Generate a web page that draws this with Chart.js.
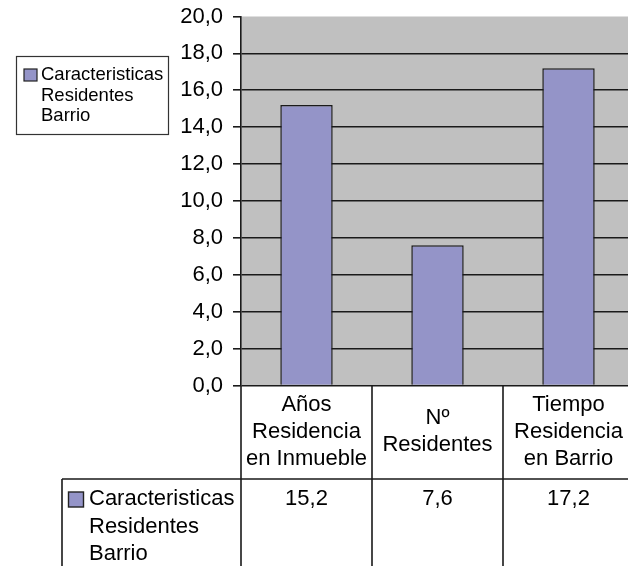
<!DOCTYPE html>
<html>
<head>
<meta charset="utf-8">
<script src="https://cdn.jsdelivr.net/npm/chart.js@4.4.0/dist/chart.umd.min.js"></script>
<style>
  html, body { margin: 0; padding: 0; background: #fff; overflow: hidden; }
  #wrap { position: absolute; left: 0; top: 0; width: 640px; height: 566px; }
</style>
</head>
<body>
<div id="wrap"><canvas id="c"></canvas></div>
<script>
// ---- data ----
const categories = [
  ["Años", "Residencia", "en Inmueble"],
  ["Nº", "Residentes"],
  ["Tiempo", "Residencia", "en Barrio"]
];
const seriesName = ["Caracteristicas", "Residentes", "Barrio"];
const seriesValues = [15.2, 7.6, 17.2];
const valueLabels = ["15,2", "7,6", "17,2"];
const yMin = 0, yMax = 20, yStep = 2;

const FONT = "'Liberation Sans', Arial, sans-serif";
const BAR_COLOR = "#9494c8";
const LINE = "#1a1a1a";

Chart.defaults.font.family = FONT;
Chart.defaults.color = "#000";

const decor = {
  id: "decor",
  beforeDraw(chart) {
    const { ctx, chartArea: a } = chart;
    ctx.save();
    ctx.fillStyle = "#c0c0c0";
    ctx.fillRect(a.left, a.top, a.right - a.left, a.bottom - a.top);
    ctx.restore();
  },
  afterDraw(chart) {
    const { ctx, chartArea: a } = chart;
    const x = chart.scales.x;
    const n = categories.length;
    const catW = x.getPixelForValue(1) - x.getPixelForValue(0);
    const H = chart.height;
    const headerBottom = 479;

    ctx.save();
    // ---- upper-left legend ----
    ctx.fillStyle = "#fff";
    ctx.fillRect(16, 56, 153, 79);
    ctx.strokeStyle = "#333";
    ctx.lineWidth = 1.2;
    ctx.strokeRect(16.5, 56.5, 152, 78);
    ctx.fillStyle = BAR_COLOR;
    ctx.fillRect(24, 69, 13, 12);
    ctx.strokeStyle = "#222";
    ctx.lineWidth = 1.2;
    ctx.strokeRect(24, 69, 13, 12);
    ctx.fillStyle = "#000";
    ctx.font = "18.5px " + FONT;
    ctx.textAlign = "left";
    ctx.textBaseline = "middle";
    seriesName.forEach((t, i) => ctx.fillText(t, 41, 75 + i * 20.5));

    // ---- data table lines ----
    ctx.strokeStyle = LINE;
    ctx.lineWidth = 1.6;
    ctx.beginPath();
    for (let i = 0; i <= n; i++) {
      const bx = x.getPixelForValue(0) - catW / 2 + i * catW;
      ctx.moveTo(bx, a.bottom);
      ctx.lineTo(bx, H);
    }
    ctx.moveTo(62, headerBottom);
    ctx.lineTo(a.right + 10, headerBottom);
    ctx.moveTo(62, headerBottom);
    ctx.lineTo(62, H);
    ctx.stroke();

    // ---- header labels ----
    ctx.fillStyle = "#000";
    ctx.font = "22px " + FONT;
    ctx.textAlign = "center";
    ctx.textBaseline = "middle";
    const headMid = (a.bottom + headerBottom) / 2 - 0.5;
    const lh = 27;
    categories.forEach((lines, i) => {
      const cx = x.getPixelForValue(i);
      const y0 = headMid - (lines.length - 1) * lh / 2;
      lines.forEach((t, j) => ctx.fillText(t, cx, y0 + j * lh));
    });
    // ---- values row ----
    valueLabels.forEach((t, i) => {
      ctx.fillText(t, x.getPixelForValue(i), 499);
    });
    // ---- row legend ----
    ctx.fillStyle = BAR_COLOR;
    ctx.fillRect(68.5, 492, 15, 15);
    ctx.strokeStyle = "#222";
    ctx.lineWidth = 1.4;
    ctx.strokeRect(68.5, 492, 15, 15);
    ctx.fillStyle = "#000";
    ctx.textAlign = "left";
    seriesName.forEach((t, i) => ctx.fillText(t, 89, 499 + i * 27.7));
    ctx.restore();
  }
};

new Chart(document.getElementById("c"), {
  type: "bar",
  data: {
    labels: categories.map(l => l.join(" ")),
    datasets: [{
      label: seriesName.join(" "),
      data: seriesValues,
      backgroundColor: BAR_COLOR,
      borderColor: "#1a1a1a",
      borderWidth: 1.5,
      barPercentage: 0.4,
      categoryPercentage: 1.0
    }]
  },
  options: {
    responsive: true,
    maintainAspectRatio: false,
    animation: false,
    events: [],
    layout: { padding: { left: 0, right: 6, top: 16.5, bottom: 180.5 } },
    plugins: { legend: { display: false }, tooltip: { enabled: false } },
    scales: {
      x: { display: false, offset: true },
      y: {
        min: yMin, max: yMax,
        afterFit(scale) { scale.width = 241; scale.paddingTop = 0; scale.paddingBottom = 0; },
        ticks: {
          stepSize: yStep,
          padding: 10,
          font: { size: 22, family: FONT },
          color: "#000",
          callback: v => v.toFixed(1).replace(".", ",")
        },
        grid: {
          color: c => (c.tick && c.tick.value === yMax) ? "rgba(0,0,0,0)" : LINE,
          tickColor: LINE,
          lineWidth: 1.6,
          tickLength: 8
        },
        border: { display: true, color: LINE, width: 1.6 }
      }
    }
  },
  plugins: [decor]
});
</script>
</body>
</html>
